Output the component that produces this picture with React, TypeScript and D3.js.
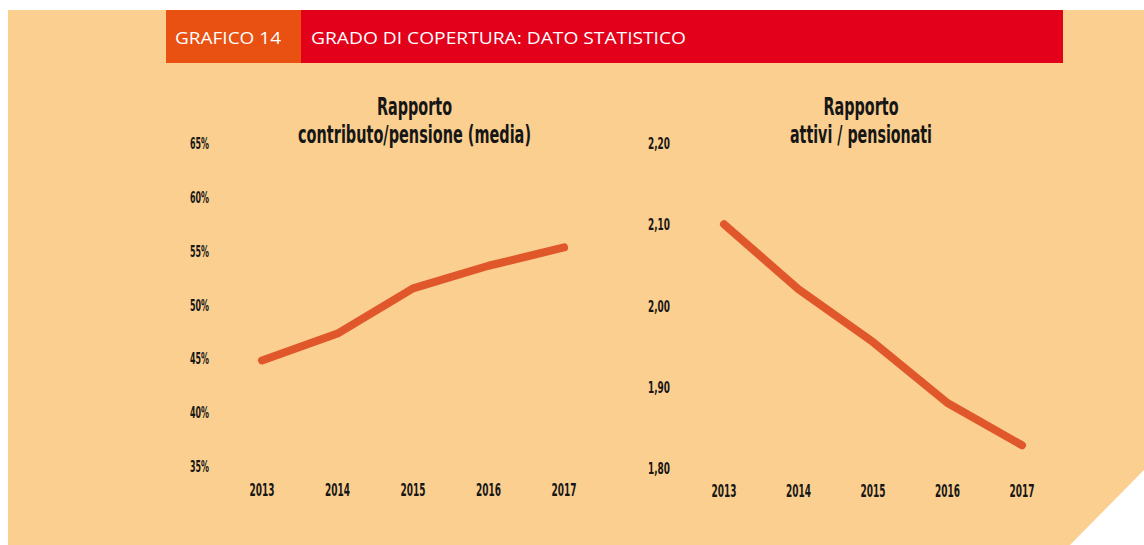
import React from "react";
import * as d3 from "d3";

const years = ["2013", "2014", "2015", "2016", "2017"];
const contribPensione = [44.8, 47.3, 51.5, 53.6, 55.3];
const attiviPensionati = [2.1, 2.02, 1.955, 1.88, 1.828];
const leftTicks = [35, 40, 45, 50, 55, 60, 65];
const rightTicks = [1.8, 1.9, 2.0, 2.1, 2.2];

const BG = "#FBCF8F";
const ORANGE = "#E85112";
const RED = "#E2001B";
const LINE = "#E1572C";
const INK = "#161616";
const COND = "'Liberation Sans Narrow', 'DejaVu Sans Condensed', 'Roboto', sans-serif";

export default function App() {
  const xL = d3.scalePoint<string>().domain(years).range([262, 564]);
  const yL = d3.scaleLinear().domain([35, 65]).range([466, 143]);
  const xR = d3.scalePoint<string>().domain(years).range([724, 1022]);
  const yR = d3.scaleLinear().domain([1.8, 2.2]).range([468, 143]);

  const lineL = d3
    .line<number>()
    .x((_, i) => xL(years[i]) as number)
    .y((d) => yL(d));
  const lineR = d3
    .line<number>()
    .x((_, i) => xR(years[i]) as number)
    .y((d) => yR(d));

  const fmtR = (v: number) => v.toFixed(2).replace(".", ",");

  return (
    <svg
      width={1144}
      height={545}
      style={{ position: "absolute", left: 0, top: 0, display: "block" }}
    >
      <rect x={0} y={0} width={1144} height={545} fill="#ffffff" />
      <polygon points="8,10 1144,10 1144,470 1070,545 8,545" fill={BG} />

      {/* header */}
      <rect x={166} y={10} width={135} height={53} fill={ORANGE} />
      <rect x={301} y={10} width={762} height={53} fill={RED} />
      <g fill="#fff" fontFamily="'Open Sans', 'Lato', sans-serif" fontSize={16} fontWeight={500}>
        <text x={175} y={44} textLength={106} lengthAdjust="spacingAndGlyphs">
          GRAFICO 14
        </text>
        <text x={311} y={44} textLength={375} lengthAdjust="spacingAndGlyphs">
          GRADO DI COPERTURA: DATO STATISTICO
        </text>
      </g>

      {/* titles */}
      <g fontFamily={COND} fontWeight="bold" fill={INK} fontSize={24} textAnchor="middle">
        <text x={414.5} y={115} textLength={75} lengthAdjust="spacingAndGlyphs">
          Rapporto
        </text>
        <text x={414.5} y={143} textLength={233} lengthAdjust="spacingAndGlyphs">
          contributo/pensione (media)
        </text>
        <text x={861} y={115} textLength={75} lengthAdjust="spacingAndGlyphs">
          Rapporto
        </text>
        <text x={861} y={143} textLength={142} lengthAdjust="spacingAndGlyphs">
          attivi / pensionati
        </text>
      </g>

      {/* left axes */}
      <g fontFamily={COND} fontWeight="bold" fill={INK} fontSize={16.5}>
        {leftTicks.map((t) => (
          <text
            key={t}
            x={209}
            y={yL(t) + 6}
            textAnchor="end"
            textLength={19}
            lengthAdjust="spacingAndGlyphs"
          >
            {t + "%"}
          </text>
        ))}
        {years.map((yr) => (
          <text
            key={yr}
            x={xL(yr) as number}
            y={496}
            textAnchor="middle"
            fontSize={17.5}
            textLength={25}
            lengthAdjust="spacingAndGlyphs"
          >
            {yr}
          </text>
        ))}
      </g>

      {/* right axes */}
      <g fontFamily={COND} fontWeight="bold" fill={INK} fontSize={16.5}>
        {rightTicks.map((t) => (
          <text
            key={t}
            x={670}
            y={yR(t) + 6}
            textAnchor="end"
            textLength={22}
            lengthAdjust="spacingAndGlyphs"
          >
            {fmtR(t)}
          </text>
        ))}
        {years.map((yr) => (
          <text
            key={yr}
            x={xR(yr) as number}
            y={497}
            textAnchor="middle"
            fontSize={17.5}
            textLength={25}
            lengthAdjust="spacingAndGlyphs"
          >
            {yr}
          </text>
        ))}
      </g>

      {/* lines */}
      <path
        d={lineL(contribPensione) || ""}
        fill="none"
        stroke={LINE}
        strokeWidth={8}
        strokeLinecap="round"
        strokeLinejoin="round"
      />
      <path
        d={lineR(attiviPensionati) || ""}
        fill="none"
        stroke={LINE}
        strokeWidth={8}
        strokeLinecap="round"
        strokeLinejoin="round"
      />
    </svg>
  );
}
